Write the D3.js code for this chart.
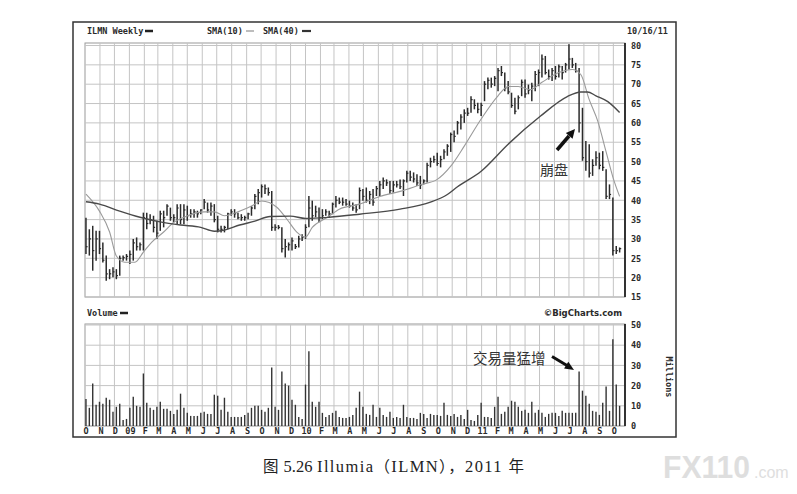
<!DOCTYPE html>
<html><head><meta charset="utf-8">
<script src="https://cdn.jsdelivr.net/npm/d3@7"></script>
<style>body{margin:0;background:#fff} svg{display:block}</style>
</head><body><svg id="c" width="797" height="494"></svg>
<script>
// ---------- data ----------
const firstWeek = "2008-10-03";   // weekly bars, one per week
const high = [35.5,32.5,33.4,32.1,32.1,29.1,25.7,22.2,22.7,22.2, 25.7,25.7,26.1,27,30,30.4,29.1,36.8,36.8,36.4,
  36,34.7,37.3,37.3,39,38.1,36.4,39,39,39, 38.6,37.7,37.7,37.3,37.7,40.3,39.4,39.4,39,36,
  33.4,33.4,36.8,37.7,37.7,36.8,36.4,36,36.8,38.5, 41.6,42.9,44.1,44.1,43.3,42.4,33.8,33.6,33,30,
  29.1,30.4,28.7,30.8,31.2,33.8,41.1,39.9,38.6,38.1, 37.7,37.7,37.3,39.4,41.1,40.7,40.7,40.3,39.9,39.4,
  39,43.3,42.9,43.3,42.4,42.9,43.7,45,45.9,45.4, 45,45,45,45.4,45.4,47.6,47.6,47.2,46.7,46.3,
  45.4,49.7,51,51.5,52.3,51.5,53.2,54.5,57.5,58, 60.5,62.2,63.5,63.9,66.9,66.1,65.2,65.2,70.8,71.7,
  71.7,72.1,74.2,74.7,73,70.8,67.8,66.5,67.1,71.2, 71.2,69.9,70.4,73.4,73.8,77.7,77.3,73.8,74.2,74.7,
  75.1,74.7,75.5,80.3,76.8,75.5,74.2,63.9,55.3,54.5, 50.6,52.7,52.3,52.7,48,44.1,40.7,28.2,27.8];
const low = [26.1,25.7,21.8,24.4,26.1,23.9,19.2,19.6,20.1,19.6, 20.5,24.4,24.4,23.5,24.4,27,27,27,32.5,33.8,
  31.7,30,32.1,33,36,34.7,34.3,33.8,33.8,33.8, 34.7,35.5,35.5,35.5,36.4,37.7,36.8,36,34.3,31.7,
  31.7,31.7,32.5,36,35.5,35.1,34.7,34.7,35.1,36, 37.7,39,40.7,41.6,41.2,32.1,32.1,32.5,26.5,25.2,
  27,27,27.4,27.8,29.5,30,33,34.7,35.6,34.3, 35.1,36,35.6,36.4,38.1,39,38.6,38.6,38.1,37.3,
  36.8,37.7,39.9,39.4,39,38.6,41.1,41.1,42.9,43.7, 41.6,42,43.3,42.9,41.1,44.6,45,44.6,43.7,42.9,
  44.1,44.6,48.5,49.7,48.9,48.5,50.6,51.5,52.5,55, 57,58.3,60,61.8,62.6,63.5,62.5,61.8,65.6,68.7,
  69.1,69.5,68.2,72.1,68.2,67.4,63.9,62.2,63.5,66.9, 66.5,67.4,65.6,68.2,69.5,71.7,72.5,71.2,70.8,71.2,
  71.7,71.2,73,73.8,74.2,73,57.5,50.2,47.6,45.9, 46.3,48.9,48,47.6,40.3,40.3,25.7,26.1,26.5];
const close = [28,30,27,30,27.5,24.5,21,21,21.5,20.5, 25,25.2,25.5,26,29,28,28.5,35.5,34,35,
  33,31.5,36.5,35.5,38.5,35.5,35.5,38,35,37.5, 36,36.5,37,36.5,37.5,39.5,37.5,38.5,35,32.5,
  32.5,33,36.5,37,36.5,35.5,35.5,35.5,36.5,38, 41,42,43.5,43,42,33,33,33,27.5,28,
  28.5,29.5,28,30,30.5,33,38,36,37,35.5, 36,37,36.5,39,40,39.5,39.5,39,38.5,38,
  37.5,42.5,41,40,41.5,39.5,43,44,45,44.5, 42.5,44,44,43.5,45,47,46,45.5,44.5,44,
  45,49,50,50.5,49.5,50.5,52.5,54,57,56.5, 60,61.5,62.5,62.5,66,64.5,63.5,64.5,70,71,
  70,71.5,73.5,73,69,68,64.5,63,66.5,70.5, 67.5,68.5,69.5,72.5,73,76.5,73,72,73.5,72,
  74.5,73,75,76.5,75,73.5,60,51,50,47, 49,51,49,48.5,41,41.5,27,27,27.5];
const volume = [13.4,9,21,10.5,12,11,14,13,7,9.5, 11,3,3.5,9,14.5,10,9.5,26,11.5,9,
  8,9.5,12,8.5,8.5,7.5,6,8,16,9, 6.5,5,5,5,6.5,7,6,6,15.5,15,
  8,14,7,4.5,4.5,4.5,4.5,5.5,6.5,9, 10,10,8,7,9,29,9.5,8,27,21,
  20,13,10.5,4.5,3.5,20.5,37,12,9.5,12, 6.5,4.5,5.5,6.5,7.5,4.5,4,4,4.5,5.5,
  9,17,9.5,6,5.5,10.5,4.5,9,5.5,4.5, 7,4,4.5,4,10.5,4.5,4,4,3.5,6.5,
  6,4,6,5.5,5.5,5,11.5,5.5,5,6, 4.5,5.5,3.5,8,3,2.5,5.5,11.5,4.5,4.5,
  4,9.5,14.5,6,7,9.5,12.5,12,9.5,7.5, 8,6.5,12,6.5,8,6.5,4.5,6,6.5,6.5,
  5,7.5,6.5,6.5,6.5,6.5,27,17.5,15,11, 7.5,7,5.5,11.5,19.5,7.5,43,20.5,10];
const sma10Week = [0,4,7,9,11.5,14.5,17,19.5,23,26, 29,35,38,41,45,49,52,56.5,59.5,62.5,
  65,67,71.5,75,81,87,93,99,104,108, 112,117,122,125,128,131.5,135,140,144,146.5, 149,151.5,154,156,158];
const sma10 = [41.6,37.2,31.8,25.6,24,24,26.6,29.2,31.8,34.3, 35.6,37,37,36,37,38.5,39.8,38.2,35.1,31.7,
  30.5,33,35.6,37.7,39,41,42.3,44,45.4,48.8, 54,61,67,69.4,69.4,68.6,70.5,73,73.8,72.5, 66,60.5,52.5,46,41];
const sma40Week = [0,4,10,16,22,28,34,38,41,45.5, 50,54.5,60.5,65,72,81,93,102,107,110,
  117,125,134.5,142.5,146.5,148.5,151,154.5,158];
const sma40 = [39.6,39,37.2,35.6,34.4,33.6,33,32,32.3,33.6, 34.6,35.8,35.9,35.3,35.6,36.4,37.7,39.5,41.5,43.5,
  47.5,54.5,61.7,66.8,68,68,67,65.5,62.7];
const monthLabels = ["O","N","D","09","F","M","A","M","J","J","A","S","O","N","D","10","F","M","A","M","J","J","A","S",
  "O","N","D","11","F","M","A","M","J","J","A","S","O"];
const priceTicks = [15,20,25,30,35,40,45,50,55,60,65,70,75,80];
const volumeTicks = [0,10,20,30,40,50];

// ---------- drawing ----------
const svg = d3.select("#c");
const parse = d3.timeParse("%Y-%m-%d");
const start = parse(firstWeek);
const weekDate = i => d3.timeHour.offset(start, 7 * 24 * i);
const dates = high.map((_, i) => weekDate(i));

const x = d3.scaleTime().domain([parse("2008-10-01"), parse("2011-10-21")]).range([85, 623]);
const yP = d3.scaleLinear().domain([15, 80]).range([297, 45.5]);
const yV = d3.scaleLinear().domain([0, 50]).range([426, 325]);

const mono = "'DejaVu Sans Mono', monospace";
const ink = "#2a2a2a";

// outer frame
svg.append("rect").attr("x", 73).attr("y", 22).attr("width", 603).attr("height", 415)
  .attr("fill", "none").attr("stroke", "#333").attr("stroke-width", 1.5);

const months = d3.timeMonth.range(parse("2008-10-01"), parse("2011-11-01"));

function panel(yTop, yBot, ys, ticks) {
  const g = svg.append("g");
  g.append("rect").attr("x", 85).attr("y", yTop).attr("width", 625 - 85).attr("height", yBot - yTop)
    .attr("fill", "none").attr("stroke", "#9a9a9a").attr("stroke-width", 1);
  g.selectAll("line.vg").data(months.slice(1)).join("line")
    .attr("x1", d => x(d)).attr("x2", d => x(d)).attr("y1", yTop).attr("y2", yBot)
    .attr("stroke", "#c4c4c4").attr("stroke-width", 1);
  g.selectAll("line.hg").data(ticks).join("line")
    .attr("x1", 85).attr("x2", 625).attr("y1", d => ys(d)).attr("y2", d => ys(d))
    .attr("stroke", "#c4c4c4").attr("stroke-width", 1);
  const ax = d3.axisRight(ys).tickValues(ticks).tickSize(0).tickPadding(6);
  const a = g.append("g").attr("transform", "translate(625,0)").call(ax);
  a.select(".domain").attr("stroke", "#222").attr("stroke-width", 1.8).attr("d", `M0,${yTop}V${yBot}`);
  a.selectAll("text").attr("font-family", mono).attr("font-weight", "bold").attr("font-size", 8.5).attr("fill", ink);
  return g;
}
panel(43, 297, yP, priceTicks);
panel(324, 426, yV, volumeTicks);

// price bars (HLC)
const bars = svg.append("g");
bars.selectAll("line.hl").data(dates).join("line")
  .attr("x1", d => x(d)).attr("x2", d => x(d))
  .attr("y1", (d, i) => yP(high[i])).attr("y2", (d, i) => yP(low[i]))
  .attr("stroke", "#2b2b2b").attr("stroke-width", 1.5);
bars.selectAll("line.cl").data(dates).join("line")
  .attr("x1", d => x(d)).attr("x2", d => x(d) + 1.6)
  .attr("y1", (d, i) => yP(close[i])).attr("y2", (d, i) => yP(close[i]))
  .attr("stroke", "#2b2b2b").attr("stroke-width", 1.2);

// moving averages
const lineGen = d3.line().curve(d3.curveMonotoneX);
svg.append("path")
  .attr("d", lineGen(sma10Week.map((w, i) => [x(weekDate(w)), yP(sma10[i])])))
  .attr("fill", "none").attr("stroke", "#9a9a9a").attr("stroke-width", 1.1);
svg.append("path")
  .attr("d", lineGen(sma40Week.map((w, i) => [x(weekDate(w)), yP(sma40[i])])))
  .attr("fill", "none").attr("stroke", "#4a4a4a").attr("stroke-width", 1.4);

// volume bars
svg.append("g").selectAll("line").data(dates).join("line")
  .attr("x1", d => x(d)).attr("x2", d => x(d))
  .attr("y1", yV(0)).attr("y2", (d, i) => yV(volume[i]))
  .attr("stroke", "#333").attr("stroke-width", 1.4);

// month labels
svg.append("g").selectAll("text").data(months).join("text")
  .attr("x", d => x(d) + 1).attr("y", 434)
  .attr("text-anchor", "middle").attr("font-family", mono).attr("font-weight", "bold")
  .attr("font-size", 8.5).attr("fill", ink).text((d, i) => monthLabels[i]);

// header texts + legend dashes
function label(t, xx, yy, anchor) {
  return svg.append("text").attr("x", xx).attr("y", yy).attr("text-anchor", anchor || "start")
    .attr("font-family", mono).attr("font-weight", "bold").attr("font-size", 8.5).attr("fill", ink).text(t);
}
label("ILMN Weekly", 87, 34);
svg.append("line").attr("x1", 145).attr("x2", 153).attr("y1", 31).attr("y2", 31).attr("stroke", "#222").attr("stroke-width", 2.5);
label("SMA(10)", 207, 34);
svg.append("line").attr("x1", 246).attr("x2", 254).attr("y1", 31).attr("y2", 31).attr("stroke", "#999").attr("stroke-width", 1.3);
label("SMA(40)", 263, 34);
svg.append("line").attr("x1", 302).attr("x2", 311).attr("y1", 31).attr("y2", 31).attr("stroke", "#333").attr("stroke-width", 2.2);
label("10/16/11", 627, 34);
label("Volume", 87, 316);
svg.append("line").attr("x1", 120).attr("x2", 128).attr("y1", 313).attr("y2", 313).attr("stroke", "#222").attr("stroke-width", 2.5);
svg.append("text").attr("x", 622).attr("y", 316).attr("text-anchor", "end")
  .attr("font-family", "'DejaVu Sans', sans-serif").attr("font-weight", "bold").attr("font-size", 8.5)
  .attr("fill", ink).text("©BigCharts.com");
svg.append("text").attr("transform", "translate(666,377) rotate(90)").attr("text-anchor", "middle")
  .attr("font-family", mono).attr("font-weight", "bold").attr("font-size", 8.5).attr("fill", ink).text("Millions");

// annotations
const cjk = "'Noto Sans CJK SC', sans-serif";
svg.append("text").attr("x", 540).attr("y", 175).attr("font-family", cjk).attr("font-size", 14)
  .attr("fill", "#333").text("崩盘");
svg.append("line").attr("x1", 557).attr("y1", 150).attr("x2", 569).attr("y2", 136)
  .attr("stroke", "#111").attr("stroke-width", 3.5);
svg.append("polygon").attr("points", "575,129 572.6,138.8 565.8,132.9").attr("fill", "#111");

svg.append("text").attr("x", 473).attr("y", 364).attr("font-family", cjk).attr("font-size", 14.5)
  .attr("fill", "#333").text("交易量猛增");
svg.append("line").attr("x1", 552).attr("y1", 356.5).attr("x2", 567).attr("y2", 365.5)
  .attr("stroke", "#111").attr("stroke-width", 3);
svg.append("polygon").attr("points", "574,370 564.1,368.6 568.3,361.8").attr("fill", "#111");

// caption
const serif = "'Liberation Serif', 'Noto Sans CJK SC', serif";
const cap1 = svg.append("text").attr("x", 263).attr("y", 472).attr("font-family", serif)
  .attr("font-size", 16.5).attr("fill", "#222");
cap1.append("tspan").attr("font-family", cjk).attr("font-size", 15.5).text("图");
cap1.append("tspan").attr("dx", 5).text("5.26");
const cap2 = svg.append("text").attr("x", 317).attr("y", 472).attr("font-family", serif)
  .attr("font-size", 16.5).attr("fill", "#222")
  .attr("textLength", 207).attr("lengthAdjust", "spacing");
cap2.append("tspan").text("Illumia");
cap2.append("tspan").attr("font-family", cjk).attr("font-size", 15.5).text("（");
cap2.append("tspan").text("ILMN");
cap2.append("tspan").attr("font-family", cjk).attr("font-size", 15.5).text("），");
cap2.append("tspan").text("2011 ");
cap2.append("tspan").attr("font-family", cjk).attr("font-size", 15.5).text("年");

// watermark
svg.append("text").attr("x", 663).attr("y", 478).attr("font-family", "'Liberation Sans', sans-serif")
  .attr("font-weight", "bold").attr("font-size", 31).attr("textLength", 87).attr("lengthAdjust", "spacingAndGlyphs")
  .attr("fill", "#dedede").text("FX110");
svg.append("text").attr("x", 754).attr("y", 478).attr("font-family", "'Liberation Sans', sans-serif")
  .attr("font-size", 16).attr("fill", "#dedede").text(".com");
</script></body></html>
